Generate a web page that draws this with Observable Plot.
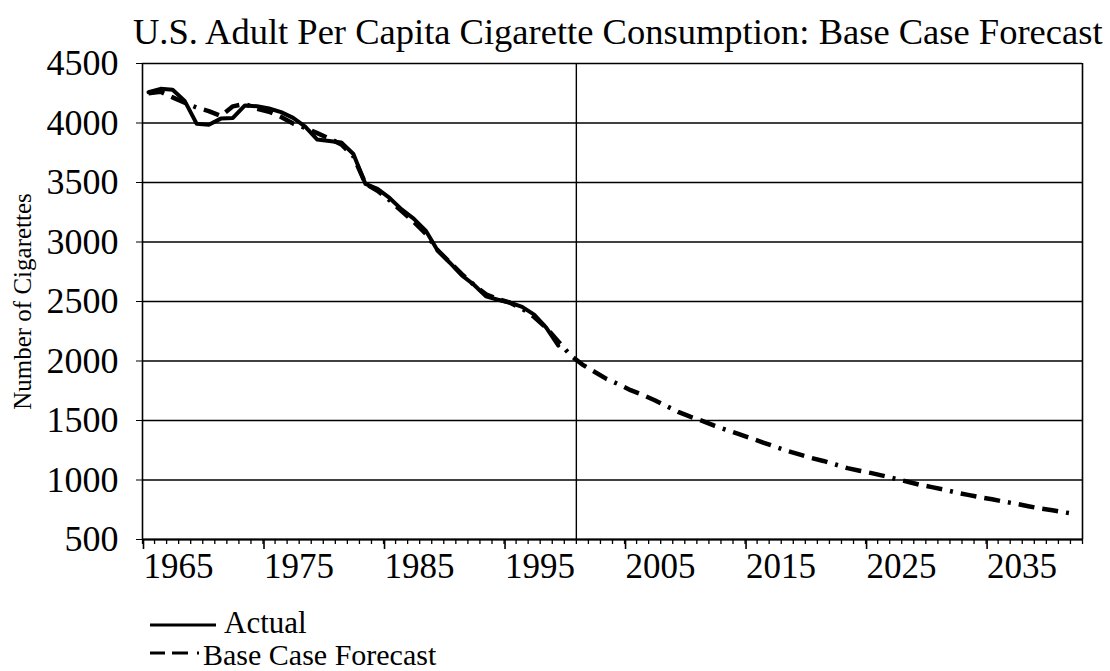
<!DOCTYPE html>
<html><head><meta charset="utf-8">
<script src="https://cdn.jsdelivr.net/npm/d3@7"></script>
<script src="https://cdn.jsdelivr.net/npm/@observablehq/plot@0.6"></script>
<style>
html,body{margin:0;padding:0;background:#fff;}
#wrap{width:1110px;height:671px;position:relative;overflow:hidden;font-family:"Liberation Serif","Times New Roman",serif;color:#000;background:#fff;}
#title{height:50px;white-space:nowrap;font-size:37px;line-height:1;padding-left:133px;box-sizing:border-box;padding-top:14px;}
#chart svg, #legend svg{display:block;}
</style></head><body>
<div id="wrap">
  <div id="title"></div>
  <div id="chart"></div>
  <div id="legend"></div>
</div>
<script>
// ---- data ----
const titleText = "U.S. Adult Per Capita Cigarette Consumption: Base Case Forecast";
const yAxisLabel = "Number of Cigarettes";
const seriesNames = ["Actual", "Base Case Forecast"];
const firstYear = 1965;
const lastYear = 2042;
const dividerYear = 2000.5;
const actualValues = [4259, 4287, 4280, 4186, 3993, 3985, 4037, 4043, 4148, 4141,
  4122, 4091, 4043, 3970, 3861, 3849, 3836, 3739, 3488, 3446,
  3370, 3274, 3197, 3096, 2926, 2826, 2720, 2641, 2543, 2515,
  2490, 2455, 2390, 2280, 2130];
const forecastValues = [4250, 4262, 4215, 4170, 4130, 4100, 4060, 4140, 4160, 4120,
  4095, 4050, 3995, 3960, 3915, 3870, 3820, 3720, 3490, 3430,
  3350, 3260, 3170, 3070, 2930, 2830, 2730, 2640, 2560, 2520,
  2490, 2440, 2370, 2280, 2165, 2050, 1970, 1910, 1850, 1805,
  1755, 1715, 1670, 1620, 1570, 1530, 1495, 1455, 1420, 1385,
  1350, 1315, 1280, 1245, 1215, 1185, 1160, 1130, 1100, 1078,
  1058, 1035, 1010, 985, 960, 940, 920, 895, 875, 855,
  838, 818, 800, 780, 760, 745, 728, 712];
const xTickLabels = ["1965", "1975", "1985", "1995", "2005", "2015", "2025", "2035"];
const yTickValues = [500, 1000, 1500, 2000, 2500, 3000, 3500, 4000, 4500];

// ---- tables ----
const actualData = actualValues.map((v, i) => ({year: firstYear + i, value: v}));
const forecastData = forecastValues.map((v, i) => ({year: firstYear + i, value: v}));
const majorTicks = xTickLabels.map(t => +t - 0.5);
const minorTicks = d3.range(firstYear - 0.5, lastYear + 1, 1);

// ---- title sized to its width in the reference ----
const titleEl = document.getElementById("title");
const ctx = document.createElement("canvas").getContext("2d");
ctx.font = '100px "Liberation Serif"';
const tw = ctx.measureText(titleText).width;
const titleSize = 972 / tw * 100;
titleEl.style.fontSize = titleSize.toFixed(2) + "px";
titleEl.textContent = titleText;

const dash = "16,8,16,8,3,8";
const fontFam = '"Liberation Serif", "Times New Roman", serif';

const chart = Plot.plot({
  width: 1110,
  height: 550,
  marginTop: 13,
  marginBottom: 61,
  marginLeft: 142,
  marginRight: 28,
  style: {fontFamily: fontFam, fontSize: "35px", color: "#000", background: "#fff", overflow: "visible"},
  x: {type: "linear", domain: [firstYear - 0.5, lastYear + 0.5], label: null},
  y: {domain: [500, 4500], label: null},
  marks: [
    Plot.gridY(yTickValues, {stroke: "#000", strokeOpacity: 1, strokeWidth: 1.3}),
    Plot.ruleX([firstYear - 0.5, lastYear + 0.5], {stroke: "#000", strokeWidth: 1.6}),
    Plot.ruleX([dividerYear], {stroke: "#000", strokeWidth: 1.4}),
    Plot.ruleY([500], {stroke: "#000", strokeWidth: 1.8}),
    Plot.axisY(yTickValues, {tickSize: 6, tickPadding: 18, fontSize: 36, fontFamily: fontFam,
      tickFormat: d => String(d), label: null, stroke: "#000"}),
    Plot.axisX(minorTicks, {tickSize: 5, text: null, label: null, stroke: "#000", strokeWidth: 1.3}),
    Plot.axisX(majorTicks, {tickSize: 10, tickPadding: 4, fontSize: 35, fontFamily: fontFam,
      textAnchor: "start", dx: 1, tickFormat: (d, i) => xTickLabels[i], label: null, stroke: "#000", strokeWidth: 1.6}),
    Plot.line(forecastData, {x: "year", y: "value", stroke: "#000", strokeWidth: 4.5, strokeDasharray: dash, strokeLinecap: "butt"}),
    Plot.line(actualData, {x: "year", y: "value", stroke: "#000", strokeWidth: 4}),
    Plot.text([yAxisLabel], {frameAnchor: "left", textAnchor: "middle", rotate: -90, dx: -120, fontSize: 25, fill: "#000"})
  ]
});
document.getElementById("chart").appendChild(chart);

// ---- legend below the chart ----
const leg = d3.select("#legend").append("svg")
  .attr("width", 1110).attr("height", 71)
  .style("font-family", fontFam);
leg.append("line").attr("x1", 150).attr("x2", 216).attr("y1", 25).attr("y2", 25)
  .attr("stroke", "#000").attr("stroke-width", 3);
leg.append("text").attr("x", 224).attr("y", 33).attr("font-size", 31).text(seriesNames[0]);
leg.append("line").attr("x1", 150).attr("x2", 199).attr("y1", 53).attr("y2", 53)
  .attr("stroke", "#000").attr("stroke-width", 3).attr("stroke-dasharray", "15,7,16,9,2,100");
leg.append("text").attr("x", 203).attr("y", 65).attr("font-size", 30).text(seriesNames[1]);
</script>
</body></html>
